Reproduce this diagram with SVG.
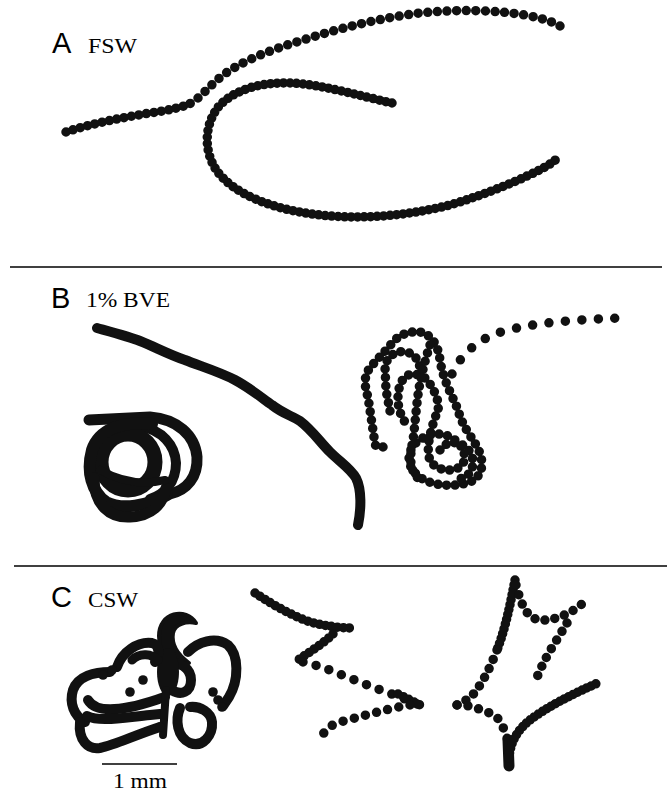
<svg xmlns="http://www.w3.org/2000/svg" width="669" height="792" viewBox="0 0 669 792">
<style>
.s{fill:none;stroke:#111;stroke-linecap:round;stroke-linejoin:round}
.d{fill:none;stroke:#111;stroke-linecap:round;stroke-width:9.5}
.lab{font-family:"Liberation Sans",Arial,sans-serif;font-size:29px;fill:#000}
.sub{font-family:"Liberation Serif","Times New Roman",serif;font-size:20px;fill:#000}
.rule{stroke:#000;stroke-width:1.5}
</style>
<rect width="669" height="792" fill="#fff"/>
<g id="panelA">
<text class="lab" x="52" y="53">A</text>
<text class="sub" x="88" y="53" textLength="49" lengthAdjust="spacingAndGlyphs">FSW</text>
<path class="d" stroke-dasharray="0 7.5" d="M66,132 C90,124 120,118 150,113 C170,110 185,107 195,101"/>
<path class="d" stroke-dasharray="0 9.6" d="M198,98 C206,91 212,84 222,76 C240,62 270,50 300,41 C340,28 380,18 420,13 C460,9 500,10 530,16 C545,19 553,22 560,26"/>
<path class="d" stroke-width="10" stroke-dasharray="0 6.5" d="M392,103 C360,96 320,84 290,83 C260,82 235,90 220,105 C205,122 203,148 215,168 C232,195 275,210 320,215 C365,220 410,215 450,205 C490,193 525,178 545,167 C552,163 556,160 558,157"/>
</g>
<line class="rule" x1="10" y1="267" x2="662" y2="267"/>
<g id="panelB">
<text class="lab" x="51" y="308">B</text>
<text class="sub" x="86" y="307" textLength="84" lengthAdjust="spacingAndGlyphs">1% BVE</text>
<path class="s" stroke-width="10" d="M97,328 C115,333 130,337 140,341 C155,347 170,355 185,360 C200,366 220,372 235,380 C250,388 262,398 272,405 C282,413 292,416 300,421 C312,430 320,442 330,452 C340,462 350,468 356,478 C362,490 361,510 358,525"/>
<g id="coil">
<path class="s" stroke-width="11" d="M89,420 L150,417 C177,419 195,435 197,457 C198,477 187,490 170,494"/>
<path class="s" stroke-width="10" d="M140,426 C162,430 175,445 176,463 C176,482 165,494 150,499"/>
<ellipse cx="128" cy="462" rx="27" ry="28" fill="none" stroke="#111" stroke-width="15"/>
<path class="s" stroke-width="12" d="M152,424 C120,421 99,430 92,450 C86,472 92,492 106,502 C122,510 147,506 167,495"/>
<path class="s" stroke-width="11" d="M94,478 C94,505 110,518 130,517 C152,516 163,504 166,488"/>
<path class="s" stroke-width="8" d="M100,470 C118,480 140,486 165,480"/>
</g>
<g id="scribble">
<path class="d" stroke-dasharray="0 8.5" d="M383,447 C376,450 374,444 374,437 L371,417 L368,397 C364,385 364,375 370,368 C376,360 385,352 393,342 C400,334 410,331 420,332 C432,335 438,345 440,360 C443,380 452,395 458,410 C462,425 470,435 476,445 C485,460 484,476 470,482 C452,488 428,486 416,474 C404,462 409,446 420,440 C430,432 445,432 455,440 C465,448 468,460 460,467 C450,473 435,470 430,460 C425,448 432,425 438,410 C440,400 432,385 425,378 C415,372 405,372 400,385 C396,398 398,412 405,422"/>
<path class="d" stroke-dasharray="0 8.5" d="M390,411 L386,390 L385,367 C386,358 395,350 405,352 C415,353 420,362 420,370"/>
<path class="d" stroke-dasharray="0 8.5" d="M430,345 C425,360 420,380 418,395 C416,410 415,425 413,440 C410,455 408,470 420,480"/>
<path class="d" stroke-dasharray="0 8.5" d="M440,450 C446,440 462,440 470,452 C477,464 471,478 458,479"/>
<path class="d" stroke-dasharray="0 16.5" d="M452,374 C460,356 475,342 495,334 C520,325 560,320 622,318"/>
</g>
</g>
<line class="rule" x1="14" y1="566" x2="667" y2="566"/>
<g id="panelC">
<text class="lab" x="51" y="607">C</text>
<text class="sub" x="88" y="607" textLength="50" lengthAdjust="spacingAndGlyphs">CSW</text>
<g id="flower">
<path fill="#111" stroke="#111" stroke-width="4" stroke-linejoin="round" d="M196,623 C186,607 159,612 159,636 C159,656 172,667 189,663 C178,655 171,645 173,633 C175,624 186,621 196,623 Z"/>
<path class="s" stroke-width="10" d="M188,652 C198,642 215,636 228,645 C239,655 239,680 229,697 L223,706"/>
<path class="s" stroke-width="10" d="M170,665 C178,660 191,668 191,680 C191,692 181,696 172,690"/>
<ellipse cx="168" cy="672" rx="11" ry="24" fill="#111"/>
<path class="s" stroke-width="10" d="M117,667 C122,652 138,641 152,643 C160,645 160,655 155,662"/>
<path class="s" stroke-width="9" d="M132,660 C140,652 152,654 158,660"/>
<path class="s" stroke-width="10" d="M110,672 C95,672 78,676 73,690 C69,703 74,716 85,722"/>
<path class="s" stroke-width="10" d="M88,700 C95,712 115,710 130,707 C145,704 155,700 165,697"/>
<path class="s" stroke-width="10" d="M87,716 C100,722 120,718 150,715 L160,714"/>
<path class="s" stroke-width="10" d="M80,722 C78,740 88,750 100,748 C115,745 135,735 160,727"/>
<path class="s" stroke-width="10" d="M180,708 C175,720 177,737 190,743 C203,748 213,735 212,722 C211,712 200,706 190,707"/>
<path class="s" stroke-width="8" d="M166,690 L163,735"/>
<g fill="#111">
<circle cx="112" cy="670" r="4.8"/><circle cx="103" cy="675" r="4.8"/><circle cx="130" cy="692" r="4.8"/><circle cx="143" cy="680" r="4.8"/>
<circle cx="213" cy="692" r="4.8"/><circle cx="218" cy="700" r="4.8"/><circle cx="222" cy="707" r="4.8"/><circle cx="160" cy="727" r="4.8"/>
</g>
</g>
<g id="zigzag">
<path class="d" stroke-dasharray="0 6" d="M255,593 C270,603 290,615 310,622 C325,626 340,628 353,628"/>
<path class="d" stroke-dasharray="0 6" d="M333,634 C325,642 310,652 298,660"/>
<path class="d" stroke-dasharray="0 13.5" d="M303,662 L322,667 L347,677 L375,688 L400,697 L422,706"/>
<path class="d" stroke-dasharray="0 6" d="M398,694 L422,706"/>
<path class="d" stroke-dasharray="0 11.5" d="M410,705 C395,707 370,714 340,722 C328,726 322,732 322,740"/>
</g>
<g id="star">
<path class="d" stroke-dasharray="0 5" d="M515,580 L512,595 C508,615 503,635 497,650"/>
<path class="d" stroke-dasharray="0 10" d="M497,650 C490,668 482,685 470,698 L457,705"/>
<path class="d" stroke-dasharray="0 11" d="M457,705 L470,706 L485,711 L496,716 C503,725 507,735 509,747"/>
<path class="s" stroke-width="11" d="M508,740 L509,766"/>
<path class="d" stroke-dasharray="0 5" d="M509,758 C510,745 515,732 530,720 C550,705 575,693 600,682"/>
<path class="d" stroke-dasharray="0 10" d="M516,585 C520,600 524,612 533,618 C545,623 557,618 567,614 C575,610 580,605 585,602"/>
<path class="d" stroke-dasharray="0 10" d="M567,623 C560,635 550,650 545,660 C540,670 537,675 537,680"/>
</g>
<line class="rule" x1="102" y1="764" x2="177" y2="764"/>
<text class="sub" x="113" y="788" textLength="54" lengthAdjust="spacingAndGlyphs">1 mm</text>
</g>
</svg>
